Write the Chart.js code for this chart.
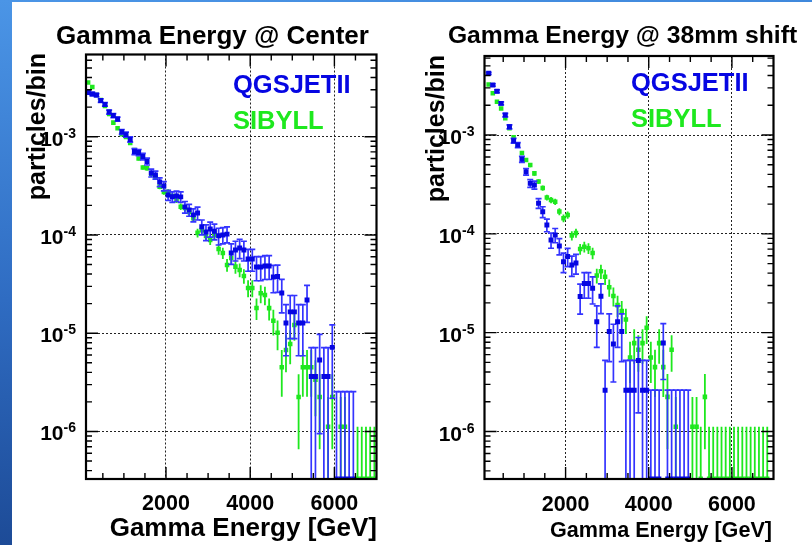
<!DOCTYPE html>
<html>
<head>
<meta charset="utf-8">
<script src="https://cdn.jsdelivr.net/npm/chart.js@4.4.0/dist/chart.umd.min.js"></script>
<style>
  html, body { margin: 0; padding: 0; background: #fff; }
  body { width: 812px; height: 545px; position: relative; overflow: hidden; }
  .stripLeft { position: absolute; left: 0; top: 0; width: 12px; height: 545px;
    background: linear-gradient(#4b95e6, #2f6cc2 55%, #1d4b97); }
  .stripTop { position: absolute; left: 0; top: 0; width: 812px; height: 2px;
    background: linear-gradient(90deg, #4b95e6, #3f88dc); }
  .plot { position: absolute; top: 0; width: 406px; height: 545px; }
</style>
</head>
<body>
<div class="stripLeft"></div>
<div class="stripTop"></div>
<div class="plot" style="left:0"><canvas id="centerPlot" width="406" height="545"></canvas></div>
<div class="plot" style="left:406px"><canvas id="shiftPlot" width="406" height="545"></canvas></div>
<script>
// bin centres, GeV (100 GeV bins)
const energyBins = [150, 250, 350, 450, 550, 650, 750, 850, 950, 1050,
  1150, 1250, 1350, 1450, 1550, 1650, 1750, 1850, 1950, 2050,
  2150, 2250, 2350, 2450, 2550, 2650, 2750, 2850, 2950, 3050,
  3150, 3250, 3350, 3450, 3550, 3650, 3750, 3850, 3950, 4050,
  4150, 4250, 4350, 4450, 4550, 4650, 4750, 4850, 4950, 5050,
  5150, 5250, 5350, 5450, 5550, 5650, 5750, 5850, 5950, 6050,
  6150, 6250, 6350, 6450, 6550, 6650, 6750, 6850, 6950];

const xMajor = [2000, 4000, 6000];
const yMajor = [1e-6, 1e-5, 1e-4, 1e-3];
const yMajorExp = ['-6', '-5', '-4', '-3'];

const seriesNames = ['QGSJETII', 'SIBYLL'];
const plotTitles = ['Gamma Energy @ Center', 'Gamma Energy @ 38mm shift'];
const xTitle = 'Gamma Energy [GeV]';
const yTitle = 'particles/bin';

// null = nothing drawn, 0 = empty bin (error bar only)
const centerQgsVal = [2.82e-3, 2.72e-3, 2.65e-3, 2.33e-3, 2.13e-3, 1.78e-3, 1.64e-3, 1.51e-3, 1.12e-3, 1.05e-3,
  9.37e-4, 7.07e-4, 6.91e-4, 6.29e-4, 5.60e-4, 4.28e-4, 4.08e-4, 3.46e-4, 3.15e-4, 2.55e-4,
  2.45e-4, 2.49e-4, 2.44e-4, 1.93e-4, 1.80e-4, 1.60e-4, 1.67e-4, 1.21e-4, 1.07e-4, 1.15e-4,
  1.09e-4, 9.8e-5, 1.0e-4, 1.02e-4, 6.56e-5, 7.03e-5, 7.38e-5, 7.03e-5, 5.70e-5, 5.70e-5,
  4.72e-5, 4.72e-5, 4.84e-5, 4.84e-5, 3.74e-5, 3.77e-5, 2.57e-5, 1.27e-5, 1.65e-5, 1.65e-5,
  1.27e-5, 1.27e-5, 2.18e-5, 3.62e-6, 3.62e-6, 5.35e-6, 3.62e-6, 3.62e-6, 7.18e-6, 0,
  0, 0, 0, 0, null, null, null, null, null];
const centerQgsErr = [1.0e-4, 1.0e-4, 9.8e-5, 9.2e-5, 8.8e-5, 8.0e-5, 7.7e-5, 7.4e-5, 6.4e-5, 6.1e-5,
  5.8e-5, 5.0e-5, 5.0e-5, 4.8e-5, 4.5e-5, 3.9e-5, 3.8e-5, 3.5e-5, 3.4e-5, 3.0e-5,
  3.0e-5, 3.0e-5, 3.0e-5, 2.6e-5, 2.5e-5, 2.4e-5, 2.5e-5, 2.1e-5, 1.95e-5, 2.0e-5,
  2.0e-5, 1.9e-5, 1.9e-5, 1.9e-5, 1.55e-5, 1.6e-5, 1.65e-5, 1.6e-5, 1.43e-5, 1.43e-5,
  1.3e-5, 1.3e-5, 1.32e-5, 1.32e-5, 1.16e-5, 1.16e-5, 9.6e-6, 6.8e-6, 7.7e-6, 7.7e-6,
  6.8e-6, 6.8e-6, 8.9e-6, 3.5e-6, 3.5e-6, 4.4e-6, 3.5e-6, 3.5e-6, 5.0e-6, 2.55e-6,
  2.55e-6, 2.55e-6, 2.55e-6, 2.55e-6, null, null, null, null, null];
const centerSibVal = [3.56e-3, 3.21e-3, 2.65e-3, 2.36e-3, 2.05e-3, 1.70e-3, 1.39e-3, 1.22e-3, 1.06e-3, 9.93e-4,
  8.63e-4, 7.33e-4, 6.0e-4, 4.86e-4, 4.77e-4, 4.18e-4, 3.89e-4, 3.10e-4, 2.74e-4, 2.74e-4,
  2.49e-4, 2.27e-4, 1.94e-4, 1.88e-4, 1.71e-4, 1.48e-4, 1.05e-4, 1.12e-4, 9.77e-5, 8.9e-5,
  1.0e-4, 7.2e-5, 6.56e-5, 4.95e-5, 5.83e-5, 4.76e-5, 4.41e-5, 3.83e-5, 2.89e-5, 2.89e-5,
  1.81e-5, 2.55e-5, 2.45e-5, 1.80e-5, 1.34e-5, 1.01e-5, 4.5e-6, 6.76e-6, 7.78e-6, 1.21e-5,
  2.24e-6, 4.5e-6, 4.5e-6, 4.5e-6, 3.37e-6, 2.24e-6, null, 1.12e-6, 2.24e-6, null,
  1.12e-6, 1.12e-6, null, null, 0, 0, 0, 0, 0];
const centerSibErr = [6.3e-5, 6.0e-5, 5.4e-5, 5.1e-5, 4.8e-5, 4.4e-5, 3.9e-5, 3.7e-5, 3.4e-5, 3.3e-5,
  3.1e-5, 2.9e-5, 2.6e-5, 2.3e-5, 2.3e-5, 2.2e-5, 2.1e-5, 1.9e-5, 1.75e-5, 1.75e-5,
  1.67e-5, 1.6e-5, 1.47e-5, 1.45e-5, 1.38e-5, 1.29e-5, 1.08e-5, 1.12e-5, 1.05e-5, 1.0e-5,
  1.06e-5, 9.0e-6, 8.6e-6, 7.4e-6, 8.1e-6, 7.3e-6, 7.0e-6, 6.5e-6, 5.7e-6, 5.7e-6,
  4.5e-6, 5.3e-6, 5.2e-6, 4.5e-6, 3.9e-6, 3.4e-6, 2.24e-6, 2.75e-6, 2.95e-6, 3.7e-6,
  1.58e-6, 2.24e-6, 2.24e-6, 2.24e-6, 1.94e-6, 1.58e-6, null, 1.12e-6, 1.58e-6, null,
  1.12e-6, 1.12e-6, null, null, 1.12e-6, 1.12e-6, 1.12e-6, 1.12e-6, 1.12e-6];

const shiftQgsVal = [4.21e-3, 3.21e-3, 2.77e-3, 2.09e-3, 1.59e-3, 1.21e-3, 8.75e-4, 7.92e-4, 5.68e-4, 4.25e-4,
  3.24e-4, 3.12e-4, 2.04e-4, 1.67e-4, 1.23e-4, 8.65e-5, 9.72e-5, 7.53e-5, 5.22e-5, 5.89e-5,
  4.83e-5, 5.06e-5, 2.32e-5, 3.14e-5, 3.14e-5, 2.81e-5, 1.29e-5, 2.34e-5, 2.62e-6, 1.03e-5,
  7.67e-6, 1.29e-5, 1.03e-5, 2.62e-6, 2.62e-6, 2.62e-6, 5.24e-6, 2.62e-6, 2.62e-6, 0,
  0, 0, 7.86e-6, 0, 0, 0, 0, 0, 0, null,
  null, null, null, null, null, null, null, null, null, null,
  null, null, null, null, null, null, null, null, null];
const shiftQgsErr = [1.05e-4, 9.2e-5, 8.5e-5, 7.4e-5, 6.5e-5, 5.6e-5, 4.8e-5, 4.6e-5, 3.9e-5, 3.3e-5,
  2.9e-5, 2.9e-5, 2.3e-5, 2.1e-5, 1.8e-5, 1.5e-5, 1.6e-5, 1.4e-5, 1.17e-5, 1.24e-5,
  1.12e-5, 1.15e-5, 7.8e-6, 9.1e-6, 9.1e-6, 8.6e-6, 5.8e-6, 7.8e-6, 2.62e-6, 5.2e-6,
  4.5e-6, 5.8e-6, 5.2e-6, 2.62e-6, 2.62e-6, 2.62e-6, 3.7e-6, 2.62e-6, 2.62e-6, 2.62e-6,
  2.62e-6, 2.62e-6, 4.5e-6, 2.62e-6, 2.62e-6, 2.62e-6, 2.62e-6, 2.62e-6, 2.62e-6, null,
  null, null, null, null, null, null, null, null, null, null,
  null, null, null, null, null, null, null, null, null];
const shiftSibVal = [3.24e-3, 2.64e-3, 2.17e-3, 1.85e-3, 1.48e-3, 1.17e-3, 9.48e-4, 7.92e-4, 6.57e-4, 5.58e-4,
  4.97e-4, 4.09e-4, 3.38e-4, 2.91e-4, 2.33e-4, 2.2e-4, 2.11e-4, 1.68e-4, 1.44e-4, 1.55e-4,
  9.61e-5, 1.02e-4, 7.02e-5, 7.4e-5, 7.13e-5, 6.39e-5, 3.79e-5, 4.18e-5, 3.68e-5, 2.88e-5,
  2.35e-5, 1.90e-5, 1.66e-5, 1.36e-5, 5.6e-6, 7.84e-6, 6.72e-6, 7.84e-6, 1.12e-5, 5.6e-6,
  4.48e-6, 7.84e-6, 4.48e-6, 2.24e-6, 6.72e-6, 1.12e-6, null, null, null, 1.12e-6,
  1.12e-6, 0, 2.24e-6, 0, 0, 0, 0, 0, 0, 0,
  0, 0, 0, 0, 0, 0, 0, 0, null];
const shiftSibErr = [6.0e-5, 5.4e-5, 4.9e-5, 4.6e-5, 4.1e-5, 3.6e-5, 3.3e-5, 3.0e-5, 2.7e-5, 2.5e-5,
  2.4e-5, 2.1e-5, 1.95e-5, 1.8e-5, 1.6e-5, 1.57e-5, 1.54e-5, 1.37e-5, 1.27e-5, 1.32e-5,
  1.04e-5, 1.07e-5, 8.9e-6, 9.1e-6, 8.9e-6, 8.5e-6, 6.5e-6, 6.8e-6, 6.4e-6, 5.7e-6,
  5.1e-6, 4.6e-6, 4.3e-6, 3.9e-6, 2.5e-6, 3.0e-6, 2.7e-6, 3.0e-6, 3.5e-6, 2.5e-6,
  2.24e-6, 3.0e-6, 2.24e-6, 1.58e-6, 2.7e-6, 1.12e-6, null, null, null, 1.12e-6,
  1.12e-6, 1.12e-6, 1.58e-6, 1.12e-6, 1.12e-6, 1.12e-6, 1.12e-6, 1.12e-6, 1.12e-6, 1.12e-6,
  1.12e-6, 1.12e-6, 1.12e-6, 1.12e-6, 1.12e-6, 1.12e-6, 1.12e-6, 1.12e-6, null];

const FONT = '"Liberation Sans", Arial, Helvetica, sans-serif';
const QGS_MARK = '#0606e2';
const QGS_BAR = '#3434ff';
const SIB_COLOR = '#1ee81e';

// error bars, drawn just before each dataset's markers
const errorBars = {
  id: 'errorBars',
  beforeDatasetDraw(chart, args) {
    const ds = chart.data.datasets[args.index];
    const { ctx, chartArea: a, scales: { x, y } } = chart;
    ctx.save();
    ctx.beginPath();
    ctx.rect(a.left, a.top, a.right - a.left, a.bottom - a.top);
    ctx.clip();
    ctx.strokeStyle = ds.barColor;
    ctx.fillStyle = ds.backgroundColor;
    ctx.lineWidth = ds.barWidth;
    ds.vals.forEach((v, i) => {
      const e = ds.errs[i];
      if (v === null || e === null) return;
      const px = x.getPixelForValue(energyBins[i]);
      const top = y.getPixelForValue(v + e);
      const low = v - e > 0 ? y.getPixelForValue(v - e) : a.bottom + 4;
      ctx.beginPath();
      ctx.moveTo(px, top);
      ctx.lineTo(px, low);
      if (ds.cap) {
        ctx.moveTo(px - ds.cap, top);
        ctx.lineTo(px + ds.cap, top);
        if (v - e > 0) {
          ctx.moveTo(px - ds.cap, low);
          ctx.lineTo(px + ds.cap, low);
        }
      }
      ctx.stroke();
      if (v === 0) ctx.fillRect(px - 2.2, a.bottom - 2.5, 4.4, 5);
    });
    ctx.restore();
  }
};

// ROOT style frame, inward ticks and all the text
const rootFrame = {
  id: 'rootFrame',
  afterDraw(chart, args, o) {
    const { ctx, chartArea: a, scales: { x, y } } = chart;
    ctx.save();
    ctx.strokeStyle = '#000';
    ctx.lineWidth = 1.4;
    ctx.beginPath();
    for (let e = 500; e < 7000; e += 500) {
      const px = x.getPixelForValue(e);
      if (px <= a.left || px >= a.right) continue;
      const len = e % 2000 === 0 ? 12 : 6;
      ctx.moveTo(px, a.bottom); ctx.lineTo(px, a.bottom - len);
      ctx.moveTo(px, a.top); ctx.lineTo(px, a.top + len);
    }
    for (let d = -7; d <= -2; d++) {
      for (let m = 1; m <= 9; m++) {
        const v = m * Math.pow(10, d);
        if (v <= y.min || v >= y.max) continue;
        const py = y.getPixelForValue(v);
        const len = m === 1 ? 12 : 6;
        ctx.moveTo(a.left, py); ctx.lineTo(a.left + len, py);
        ctx.moveTo(a.right, py); ctx.lineTo(a.right - len, py);
      }
    }
    ctx.stroke();
    ctx.lineWidth = 2.2;
    ctx.strokeRect(a.left, a.top, a.right - a.left, a.bottom - a.top);

    ctx.fillStyle = '#000';
    // x tick labels
    ctx.font = 'bold ' + o.tickSize + 'px ' + FONT;
    ctx.textAlign = 'center';
    ctx.textBaseline = 'alphabetic';
    xMajor.forEach(v => ctx.fillText(String(v), x.getPixelForValue(v), o.xTickBase));
    // y tick labels 10^n
    yMajor.forEach((v, i) => {
      const py = y.getPixelForValue(v);
      ctx.font = 'bold ' + o.tenSize + 'px ' + FONT;
      const w10 = ctx.measureText('10').width;
      ctx.font = 'bold ' + o.supSize + 'px ' + FONT;
      const wSup = ctx.measureText(yMajorExp[i]).width;
      const x0 = a.left - o.yTickGap - wSup - w10;
      ctx.textAlign = 'left';
      ctx.font = 'bold ' + o.tenSize + 'px ' + FONT;
      ctx.fillText('10', x0, py + o.tenDrop);
      ctx.font = 'bold ' + o.supSize + 'px ' + FONT;
      ctx.fillText(yMajorExp[i], x0 + w10, py + o.supDrop);
    });
    // title
    ctx.font = 'bold ' + o.titleSize + 'px ' + FONT;
    ctx.textAlign = 'center';
    ctx.fillText(o.title, o.titleX, o.titleBase);
    // x axis title, right aligned
    ctx.font = 'bold ' + o.xTitleSize + 'px ' + FONT;
    ctx.textAlign = 'right';
    ctx.fillText(xTitle, o.xTitleRight, o.xTitleBase);
    // y axis title, rotated, top aligned
    ctx.save();
    ctx.translate(o.yTitleBase, o.yTitleTop);
    ctx.rotate(-Math.PI / 2);
    ctx.font = 'bold ' + o.yTitleSize + 'px ' + FONT;
    ctx.textAlign = 'right';
    ctx.fillText(yTitle, 0, 0);
    ctx.restore();
    // legend texts
    ctx.font = 'bold ' + o.legendSize + 'px ' + FONT;
    ctx.textAlign = 'left';
    ctx.fillStyle = QGS_MARK;
    ctx.fillText(seriesNames[0], o.legendX, o.legendBase[0]);
    ctx.fillStyle = SIB_COLOR;
    ctx.fillText(seriesNames[1], o.legendX, o.legendBase[1]);
    ctx.restore();
  }
};

function points(vals) {
  const out = [];
  vals.forEach((v, i) => { if (v) out.push({ x: energyBins[i], y: v }); });
  return out;
}

function makePlot(id, qgsVal, qgsErr, sibVal, sibErr, lay, text) {
  return new Chart(document.getElementById(id), {
    type: 'scatter',
    data: {
      datasets: [
        { label: seriesNames[0], data: points(qgsVal), vals: qgsVal, errs: qgsErr,
          pointStyle: 'rect', pointRadius: 3.5, borderWidth: 0,
          backgroundColor: QGS_MARK, barColor: QGS_BAR, barWidth: 1.7, cap: 3, clip: 0 },
        { label: seriesNames[1], data: points(sibVal), vals: sibVal, errs: sibErr,
          pointStyle: 'rect', pointRadius: 3.2, borderWidth: 0,
          backgroundColor: SIB_COLOR, barColor: SIB_COLOR, barWidth: 1.8, cap: 0, clip: 0 }
      ]
    },
    options: {
      responsive: false,
      animation: false,
      events: [],
      layout: { autoPadding: false, padding: { top: lay.top, right: lay.right, left: 0, bottom: 0 } },
      plugins: { legend: { display: false }, tooltip: { enabled: false }, rootFrame: text },
      scales: {
        x: {
          type: 'linear', min: lay.xMin, max: 7000,
          afterBuildTicks: s => { s.ticks = xMajor.map(v => ({ value: v })); },
          afterFit: s => { s.height = 545 - lay.bottom; },
          ticks: { display: false },
          grid: { color: '#222', lineWidth: 1, drawTicks: false },
          border: { display: false, dash: [2, 2] }
        },
        y: {
          type: 'logarithmic', min: lay.yMin, max: lay.yMax,
          afterBuildTicks: s => { s.ticks = yMajor.map(v => ({ value: v })); },
          afterFit: s => { s.width = lay.left; },
          ticks: { display: false },
          grid: { color: '#222', lineWidth: 1, drawTicks: false },
          border: { display: false, dash: [2, 2] }
        }
      }
    },
    plugins: [errorBars, rootFrame]
  });
}

makePlot('centerPlot', centerQgsVal, centerQgsErr, centerSibVal, centerSibErr,
  { left: 86, right: 29.5, top: 54.5, bottom: 479, xMin: 100, yMin: 3.285e-7, yMax: 6.86e-3 },
  { title: plotTitles[0], titleSize: 26, titleX: 212.5, titleBase: 43.5,
    tickSize: 21.5, xTickBase: 510, tenSize: 21, supSize: 14, tenDrop: 9, supDrop: 1, yTickGap: 10,
    xTitleSize: 26, xTitleRight: 377, xTitleBase: 536,
    yTitleSize: 25, yTitleBase: 45, yTitleTop: 53,
    legendSize: 25.5, legendX: 233, legendBase: [92.7, 129] });

makePlot('shiftPlot', shiftQgsVal, shiftQgsErr, shiftSibVal, shiftSibErr,
  { left: 78.5, right: 38.5, top: 56, bottom: 479, xMin: 50, yMin: 3.307e-7, yMax: 6.30e-3 },
  { title: plotTitles[1], titleSize: 24.7, titleX: 216.5, titleBase: 43,
    tickSize: 21.5, xTickBase: 511, tenSize: 21, supSize: 14, tenDrop: 9, supDrop: 1, yTickGap: 10,
    xTitleSize: 21.6, xTitleRight: 366, xTitleBase: 537,
    yTitleSize: 25, yTitleBase: 38, yTitleTop: 55,
    legendSize: 25.5, legendX: 225, legendBase: [90.7, 126.7] });
</script>
</body>
</html>
